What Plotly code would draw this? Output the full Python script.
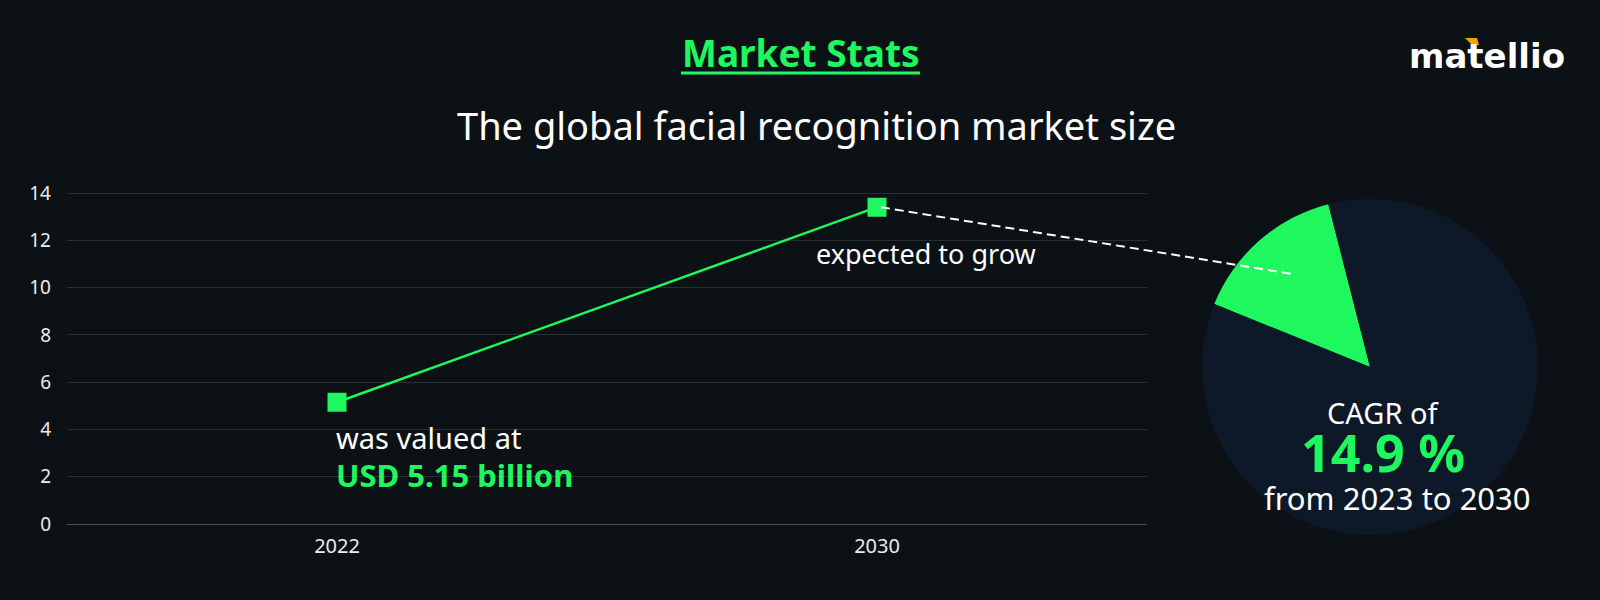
import plotly.graph_objects as go

# ---- data ----
years = ["2022", "2030"]
market_size = [5.15, 13.4]          # USD billion
cagr = 14.9                          # percent, 2023-2030
y_ticks = [0, 2, 4, 6, 8, 10, 12, 14]

# ---- style ----
BG = "#0b1115"
GREEN = "#1ef85e"
NAVY = "#0d1828"
GRID = "#2a2f34"
FONT = "Noto Sans"
W, H = 1600, 600

# pixel geometry of the plot area (0 -> 524px, 14 -> 193px)
PPU = (524 - 193) / 14
YR = [-0.2, 14.2]
Y_BOT = 524 + (0 - YR[0]) * PPU
Y_TOP = 193 - (YR[1] - 14) * PPU
XDOM = [67 / W, 1147 / W]
YDOM = [(H - Y_BOT) / H, (H - Y_TOP) / H]
XR = [-0.5, 1.5]


def to_paper(xi, yv):
    px = XDOM[0] + (xi - XR[0]) / (XR[1] - XR[0]) * (XDOM[1] - XDOM[0])
    py = YDOM[0] + (yv - YR[0]) / (YR[1] - YR[0]) * (YDOM[1] - YDOM[0])
    return px, py


fig = go.Figure()

fig.add_trace(go.Scatter(
    x=years, y=market_size, mode="lines+markers",
    line=dict(color=GREEN, width=2.5),
    marker=dict(symbol="square", size=19, color=GREEN),
    showlegend=False, hoverinfo="skip",
))

# pie (CAGR share)
cx, cy, r = 1370, 367, 168
fig.add_trace(go.Pie(
    values=[cagr, 100 - cagr],
    marker=dict(colors=[GREEN, NAVY], line=dict(width=0)),
    sort=False, direction="clockwise", rotation=-68,
    textinfo="none", hoverinfo="skip", showlegend=False,
    domain=dict(x=[(cx - r) / W, (cx + r) / W],
                y=[(H - cy - r) / H, (H - cy + r) / H]),
))

fig.update_layout(
    template="none",
    width=W, height=H,
    paper_bgcolor=BG, plot_bgcolor=BG,
    margin=dict(l=0, r=0, t=0, b=0, pad=0),
    font=dict(family=FONT, color="#e8e8e8"),
    xaxis=dict(type="category", range=XR, domain=XDOM, showgrid=False,
               zeroline=False, showline=False, ticks="", automargin=False,
               tickfont=dict(size=20, color="#ececec"), ticklabelstandoff=3),
    yaxis=dict(range=YR, domain=YDOM, tickvals=y_ticks, showgrid=True,
               gridcolor=GRID, gridwidth=1, zeroline=True, zerolinecolor="#4b5054",
               zerolinewidth=1, showline=False, ticks="", automargin=False,
               tickfont=dict(size=19, color="#ececec"), ticklabelstandoff=15),
)

# dashed leader from 2030 point into pie
sx, sy = to_paper(1, market_size[1])
fig.add_shape(type="line", xref="paper", yref="paper",
              x0=sx + 4 / W, y0=sy, x1=1292 / W, y1=(H - 274) / H,
              line=dict(color="white", width=2, dash="9px,5px"))

# title underline
fig.add_shape(type="line", xref="paper", yref="paper",
              x0=681 / W, x1=920 / W, y0=(H - 73) / H, y1=(H - 73) / H,
              line=dict(color=GREEN, width=3))

# logo accent
fig.add_shape(type="path", xref="paper", yref="paper",
              path=(f"M {1465/W},{(H-38)/H} L {1477/W},{(H-38)/H} "
                    f"L {1479/W},{(H-45)/H} L {1472/W},{(H-45)/H} Z"),
              fillcolor="#f5a100", line=dict(width=0))

ann = []
ann.append(dict(text="<b>Market Stats</b>", x=801 / W, y=(H - 52) / H,
                font=dict(size=37, color=GREEN)))
ann.append(dict(text="The global facial recognition market size", x=816 / W, y=(H - 125) / H,
                font=dict(size=38, color="white")))
ann.append(dict(text="<b>matellio</b>", x=1487 / W, y=(H - 56) / H,
                font=dict(size=34, color="white", family="DejaVu Sans")))
ann.append(dict(text="CAGR of", x=1383 / W, y=(H - 412) / H, height=34,
                font=dict(size=29, color="white")))
ann.append(dict(text=f"<b>{cagr} %</b>", x=1383 / W, y=(H - 451) / H, height=46,
                font=dict(size=52, color=GREEN)))
ann.append(dict(text="from 2023 to 2030", x=1397 / W, y=(H - 498) / H, height=36,
                font=dict(size=31, color="white")))
for a in ann:
    a.update(xref="paper", yref="paper", showarrow=False, xanchor="center", yanchor="middle")
    fig.add_annotation(**a)

# data-anchored labels (category index positions)
fig.add_annotation(x=0, y=market_size[0], xref="x", yref="y", showarrow=False,
                   text=(f"was valued at<br><span style='font-size:31px;color:{GREEN}'>"
                         f"<b>USD {market_size[0]} billion</b></span>"),
                   xanchor="left", yanchor="middle", align="left",
                   xshift=-3, yshift=-55, font=dict(size=29, color="white"))
fig.add_annotation(x=1, y=market_size[1], xref="x", yref="y", showarrow=False,
                   text="expected to grow", xanchor="left", yanchor="middle",
                   xshift=-63, yshift=-46, font=dict(size=27, color="white"))

fig.write_html("out.html")
